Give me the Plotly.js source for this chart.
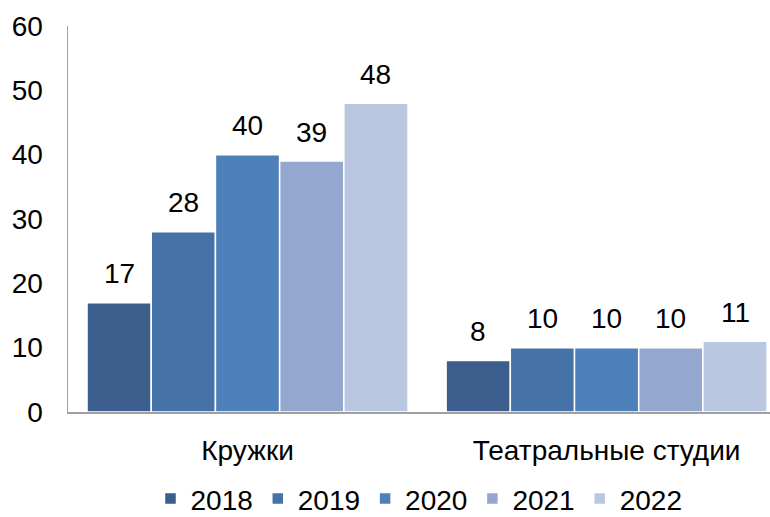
<!DOCTYPE html>
<html><head><meta charset="utf-8">
<script src="https://cdn.plot.ly/plotly-3.0.1.min.js"></script>
<style>body{margin:0;background:#fff}#chart{width:770px;height:517px}</style>
</head><body><div id="chart"></div>
<script>
const categories = ["Кружки", "Театральные студии"];
const years = ["2018", "2019", "2020", "2021", "2022"];
const v2018 = [17, 8];
const v2019 = [28, 10];
const v2020 = [40, 10];
const v2021 = [39, 10];
const v2022 = [48, 11];
const seriesValues = [v2018, v2019, v2020, v2021, v2022];
const colors = ["#3B5E8C", "#4573A7", "#4E80BC", "#94A8CF", "#BAC7E1"];
const xIdx = categories.map((c, i) => i);
const BARGAP = 0.106;
const FS = 28;
const traces = years.map((y, k) => ({
  type: "bar", name: y, x: xIdx, y: seriesValues[k],
  marker: {color: colors[k], line: {color: "#fff", width: 1.5}},
  hoverinfo: "none"
}));
// value labels placed above each bar (through the axis scales)
const slot = (1 - BARGAP) / years.length;
const annotations = [];
years.forEach((y, k) => {
  seriesValues[k].forEach((v, i) => {
    annotations.push({
      x: xIdx[i] + (k - (years.length - 1) / 2) * slot, y: v,
      xref: "x", yref: "y", text: String(v), showarrow: false,
      yanchor: "middle", yshift: 29, font: {size: FS, color: "#000"}
    });
  });
});
const layout = {
  width: 770, height: 517,
  margin: {l: 68, r: 0, t: 26, b: 105},
  font: {family: "Arial, 'Liberation Sans', sans-serif", size: FS, color: "#000"},
  paper_bgcolor: "#fff", plot_bgcolor: "#fff",
  barmode: "group", bargap: BARGAP, bargroupgap: 0,
  xaxis: {
    tickmode: "array", tickvals: xIdx, ticktext: categories,
    range: [-0.5, 1.455], showgrid: false, zeroline: false,
    showline: true, linecolor: "#A0A0A0", linewidth: 1.5,
    ticks: "", ticklabelstandoff: 13, tickfont: {size: FS}, automargin: false
  },
  yaxis: {
    range: [0, 60], dtick: 10, showgrid: false, zeroline: false,
    showline: true, linecolor: "#A0A0A0", linewidth: 1.5,
    ticks: "", ticklabelstandoff: 18, tickfont: {size: FS}, automargin: false
  },
  annotations: annotations,
  legend: {orientation: "h", x: 0.5, xanchor: "center", xref: "paper",
           yref: "container", y: 0.035, yanchor: "middle",
           font: {size: FS}, itemwidth: 30, traceorder: "normal"},
  showlegend: true
};
Plotly.newPlot("chart", traces, layout, {staticPlot: true});
</script></body></html>
